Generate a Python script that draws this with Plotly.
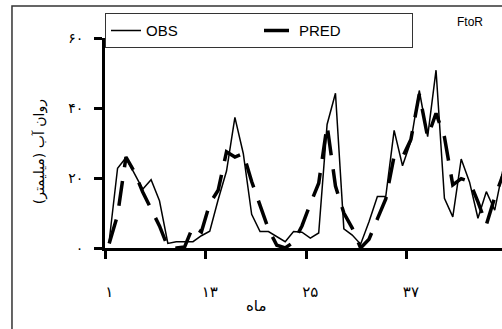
import plotly.graph_objects as go

months = list(range(1, 49))
obs = [2.0, 22.8, 25.8, 21.3, 16.8, 19.5, 13.5, 1.3, 1.8, 1.8, 1.8, 3.5,
       4.8, 13.8, 22.0, 37.3, 27.0, 9.6, 4.7, 4.7, 3.2, 1.8, 4.7, 4.5,
       2.8, 4.3, 35.3, 44.2, 5.5, 3.7, 1.1, 7.5, 14.7, 14.7, 33.6, 23.5,
       30.5, 45.0, 31.8, 50.8, 14.2, 8.9, 25.4, 18.8, 8.5, 16.1, 10.8, 22.6]
pred = [1.3, 9.4, 26.0, 21.8, 16.0, 11.2, 6.3, 0.3, 0.0, 0.3, 6.2, 4.6,
        12.7, 16.5, 27.5, 26.0, 27.0, 19.0, 12.3, 5.4, 0.8, 0.0, 1.7, 6.3,
        12.6, 18.5, 35.0, 17.7, 10.0, 5.7, 0.0, 2.5, 8.3, 14.0, 26.3, 26.0,
        31.0, 44.0, 31.7, 38.5, 31.7, 18.0, 19.8, 19.0, 13.2, 6.6, 14.5, 21.0]

x_label_vals = [1, 13, 25, 37]
x_label_text = ["۱", "۱۳", "۲۵", "۳۷"]
x_tick_bounds = [0.5, 12.5, 24.5, 36.5, 48.5]
y_tick_vals = [0, 20, 40, 60]
y_tick_text = ["۰", "۲۰", "۴۰", "۶۰"]

fig = go.Figure()
fig.add_trace(go.Scatter(x=months, y=obs, mode="lines", name="OBS",
                         line=dict(color="black", width=1.5)))
fig.add_trace(go.Scatter(x=months, y=pred, mode="lines", name="PRED",
                         line=dict(color="black", width=3.5, dash="25px,14px")))

fig.update_layout(
    width=502, height=329,
    margin=dict(l=105, r=0, t=38, b=81, pad=0),
    paper_bgcolor="white", plot_bgcolor="white",
    font=dict(family="Liberation Sans, DejaVu Sans", color="black"),
    showlegend=True,
    legend=dict(orientation="h", x=0, xanchor="left", y=1.118, yanchor="top",
                bordercolor="#333", borderwidth=1, bgcolor="white",
                font=dict(size=15), entrywidth=108, entrywidthmode="pixels",
                traceorder="normal", tracegroupgap=0),
    xaxis=dict(range=[0.5, 47.87], tickmode="array", tickvals=x_tick_bounds,
               showticklabels=False, ticks="outside", ticklen=8, tickwidth=3,
               tickcolor="black", showline=True, linewidth=3, linecolor="black",
               showgrid=False, zeroline=False),
    xaxis2=dict(overlaying="x", matches="x", anchor="y", side="bottom",
                tickmode="array", tickvals=x_label_vals, ticktext=x_label_text,
                ticks="", showline=False, showgrid=False, zeroline=False,
                ticklabelstandoff=33,
                tickfont=dict(size=15, family="DejaVu Sans")),
    yaxis=dict(range=[0, 60], tickmode="array", tickvals=y_tick_vals,
               ticktext=y_tick_text, ticks="outside", ticklen=8, tickwidth=3,
               tickcolor="black", showline=True, linewidth=3, linecolor="black",
               showgrid=False, zeroline=False, ticklabelstandoff=8,
               tickfont=dict(size=14, family="DejaVu Sans")),
    annotations=[
        dict(text="روان آب (میلیمتر)", xref="paper", yref="paper",
             x=-0.164, y=0.46, xanchor="center", yanchor="middle",
             textangle=-90, showarrow=False,
             font=dict(size=14, family="DejaVu Sans")),
        dict(text="ماه", xref="paper", yref="paper", x=0.38, y=-0.276,
             xanchor="center", yanchor="middle",
             showarrow=False, font=dict(size=15, family="DejaVu Sans")),
        dict(text="FtoR", xref="paper", yref="paper", x=0.92, y=1.076,
             xanchor="center", yanchor="middle",
             showarrow=False, font=dict(size=12, family="Liberation Sans")),
    ],
    shapes=[
        dict(type="rect", xref="paper", yref="paper", x0=-0.2343, x1=1.03,
             y0=-0.45, y1=1.152, line=dict(color="#333", width=1.5),
             layer="below"),
    ],
)
fig.add_trace(go.Scatter(x=[None], y=[None], xaxis="x2", showlegend=False,
                         hoverinfo="skip"))

fig.write_html("out.html")
